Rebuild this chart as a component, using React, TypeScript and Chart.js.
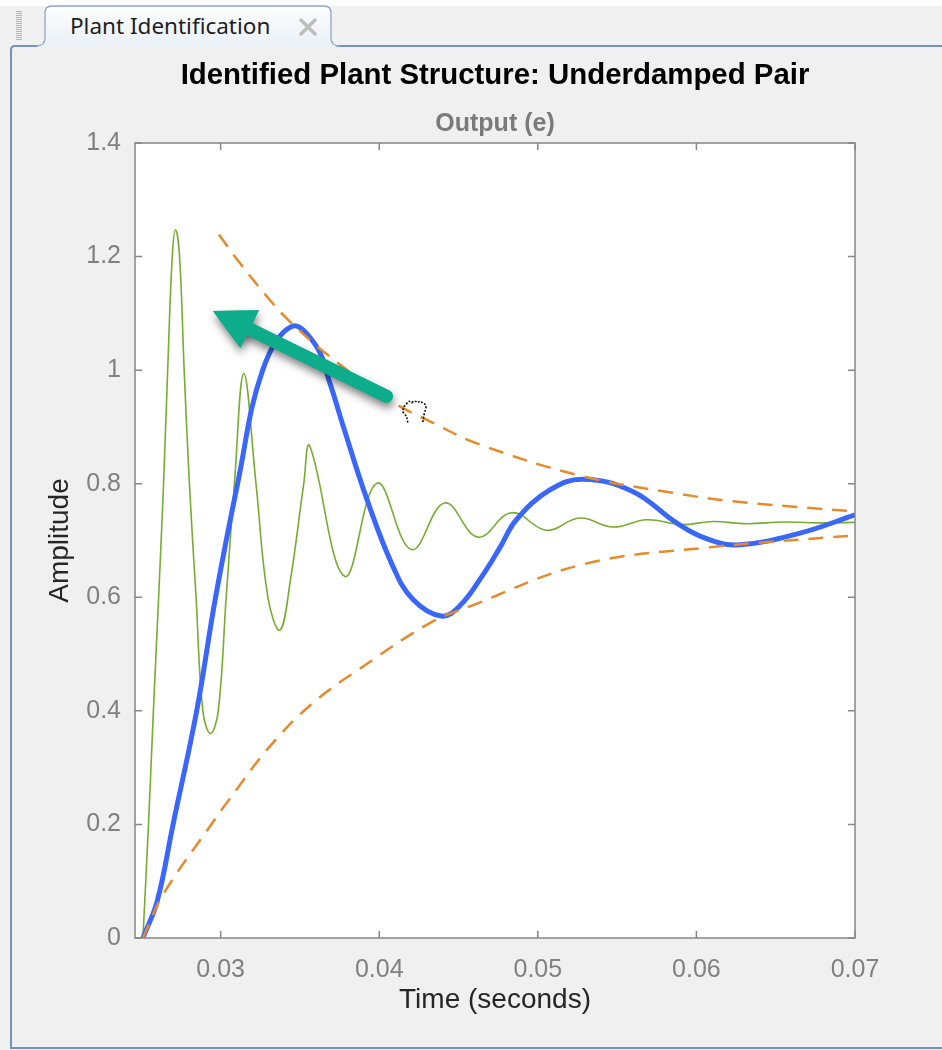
import React, { useEffect, useRef } from 'react';
import { Chart, registerables } from 'chart.js';

Chart.register(...registerables);

// ---------- text ----------
const TAB_LABEL = 'Plant Identification';
const TITLE = 'Identified Plant Structure: Underdamped Pair';
const SUBTITLE = 'Output (e)';
const X_LABEL = 'Time (seconds)';
const Y_LABEL = 'Amplitude';

// ---------- axes ----------
const X_MIN = 0.0246;
const X_MAX = 0.07;
const Y_MIN = 0;
const Y_MAX = 1.4;
const X_TICKS = [0.03, 0.04, 0.05, 0.06, 0.07];
const X_TICK_LABELS = ['0.03', '0.04', '0.05', '0.06', '0.07'];
const Y_TICKS = [0, 0.2, 0.4, 0.6, 0.8, 1.0, 1.2, 1.4];
const Y_TICK_LABELS = ['0', '0.2', '0.4', '0.6', '0.8', '1', '1.2', '1.4'];

// ---------- green response (fast oscillation) ----------
const MEASURED_T = [
  0.0251, 0.02545, 0.02576, 0.02609, 0.0264, 0.02666, 0.02695, 0.02716, 0.02741, 0.0277,
  0.02803, 0.02845, 0.02888, 0.02936, 0.02985, 0.03035, 0.03087, 0.03146, 0.03223, 0.03298,
  0.03374, 0.0344, 0.03524, 0.03562, 0.03782, 0.03986, 0.04203, 0.04413, 0.04623, 0.04834,
  0.05055, 0.05265, 0.05475, 0.05686, 0.05905, 0.06106, 0.06317, 0.0655, 0.068, 0.07,
];
const MEASURED_Y = [
  0, 0.2, 0.4, 0.6, 0.8, 1.0, 1.2, 1.247, 1.2, 1.0,
  0.8, 0.6, 0.4, 0.36, 0.4, 0.6, 0.8, 0.994, 0.8, 0.6,
  0.542, 0.63, 0.8, 0.866, 0.637, 0.801, 0.684, 0.766, 0.706, 0.749,
  0.718, 0.7395, 0.7237, 0.7366, 0.728, 0.7335, 0.7295, 0.7325, 0.731, 0.732,
];

// ---------- blue identified plant response ----------
const IDENTIFIED_T = [
  0.0251, 0.026, 0.027, 0.02849, 0.02968, 0.03107, 0.03265, 0.03448, 0.03604, 0.03688,
  0.0378, 0.03923, 0.04087, 0.04213, 0.0439, 0.04508, 0.04655, 0.0476, 0.04866, 0.05076,
  0.05286, 0.05601, 0.05875, 0.06085, 0.06275, 0.06653, 0.07,
];
const IDENTIFIED_Y = [
  0, 0.065, 0.2, 0.4, 0.6, 0.8, 1.0, 1.077, 1.042, 0.978,
  0.895, 0.772, 0.654, 0.596, 0.567, 0.585, 0.64, 0.687, 0.737, 0.789,
  0.808, 0.786, 0.731, 0.701, 0.6925, 0.713, 0.745,
];

// ---------- orange decay envelopes ----------
const UPPER_T = [0.02989, 0.0312, 0.03309, 0.03435, 0.03688, 0.04066, 0.0434, 0.04634, 0.05286, 0.05896, 0.06232, 0.07];
const UPPER_Y = [1.239, 1.189, 1.124, 1.086, 1.024, 0.947, 0.907, 0.869, 0.813, 0.782, 0.769, 0.751];
const LOWER_T = [0.0251, 0.02636, 0.02931, 0.03057, 0.03309, 0.03582, 0.03898, 0.04319, 0.04571, 0.05286, 0.06085, 0.07];
const LOWER_Y = [0, 0.076, 0.196, 0.245, 0.337, 0.414, 0.478, 0.5545, 0.584, 0.658, 0.688, 0.709];

// ---------- annotation (data units) ----------
const ARROW_FROM = [0.04045, 0.954];
const ARROW_TO = [0.02951, 1.104];
const CURSOR_AT = [0.04224, 0.9286];

// ---------- styles ----------
const FONT = "'Liberation Sans', Arial, Helvetica, sans-serif";
const GREEN = '#77AC30';
const BLUE = '#3A66FA';
const ORANGE = '#E68A2E';
const TEAL = '#0DAD8B';
const AXIS_GRAY = '#868686';
const TICK_GRAY = '#808080';
const CHROME_BLUE = '#7391bb';

const pts = (t: number[], y: number[]) => t.map((x, i) => ({ x, y: y[i] }));

const framePlugin = {
  id: 'matlabFrame',
  beforeDraw(chart: any) {
    const { ctx, chartArea: a } = chart;
    ctx.save();
    ctx.fillStyle = '#ffffff';
    ctx.fillRect(a.left, a.top, a.right - a.left, a.bottom - a.top);
    ctx.restore();
  },
  afterDatasetsDraw(chart: any) {
    const { ctx, chartArea: a, scales } = chart;
    const xs = scales.x;
    const ys = scales.y;

    // arrow annotation
    const x1 = xs.getPixelForValue(ARROW_FROM[0]);
    const y1 = ys.getPixelForValue(ARROW_FROM[1]);
    const x2 = xs.getPixelForValue(ARROW_TO[0]);
    const y2 = ys.getPixelForValue(ARROW_TO[1]);
    const ang = Math.atan2(y2 - y1, x2 - x1);
    const c = Math.cos(ang);
    const s = Math.sin(ang);
    const headLen = 41;
    const headHalf = 21;
    const bx = x2 - headLen * c;
    const by = y2 - headLen * s;
    const drawArrow = () => {
      ctx.beginPath();
      ctx.moveTo(x1, y1);
      ctx.lineTo(bx + 3 * c, by + 3 * s);
      ctx.stroke();
      ctx.beginPath();
      ctx.moveTo(x2, y2);
      ctx.lineTo(bx - headHalf * s, by + headHalf * c);
      ctx.lineTo(bx + headHalf * s, by - headHalf * c);
      ctx.closePath();
      ctx.fill();
    };
    ctx.save();
    ctx.strokeStyle = TEAL;
    ctx.fillStyle = TEAL;
    ctx.lineWidth = 13;
    ctx.lineCap = 'round';
    ctx.shadowColor = 'rgba(0,0,0,0.5)';
    ctx.shadowBlur = 9;
    ctx.shadowOffsetX = 1;
    ctx.shadowOffsetY = 5;
    drawArrow();
    ctx.shadowColor = 'rgba(0,0,0,0)';
    drawArrow();
    ctx.restore();

    // grab-hand cursor
    const cx = xs.getPixelForValue(CURSOR_AT[0]);
    const cy = ys.getPixelForValue(CURSOR_AT[1]);
    ctx.save();
    ctx.translate(cx, cy);
    ctx.strokeStyle = '#111';
    ctx.lineWidth = 1.6;
    ctx.setLineDash([2, 1.5]);
    ctx.beginPath();
    ctx.moveTo(-7, 12);
    ctx.lineTo(-8, 6);
    ctx.lineTo(-12, 1);
    ctx.lineTo(-11, -4);
    ctx.lineTo(-8, -7);
    ctx.quadraticCurveTo(-6, -11, -3, -8);
    ctx.quadraticCurveTo(0, -11, 3, -8);
    ctx.quadraticCurveTo(6, -11, 8, -7);
    ctx.quadraticCurveTo(12, -7, 11, -2);
    ctx.lineTo(9, 5);
    ctx.lineTo(8, 12);
    ctx.stroke();
    ctx.restore();

    // box and inward ticks
    ctx.save();
    ctx.strokeStyle = AXIS_GRAY;
    ctx.lineWidth = 1.5;
    ctx.strokeRect(a.left, a.top, a.right - a.left, a.bottom - a.top);
    ctx.beginPath();
    for (const v of X_TICKS) {
      const px = xs.getPixelForValue(v);
      ctx.moveTo(px, a.bottom);
      ctx.lineTo(px, a.bottom - 7);
      ctx.moveTo(px, a.top);
      ctx.lineTo(px, a.top + 7);
    }
    for (const v of Y_TICKS) {
      const py = ys.getPixelForValue(v);
      ctx.moveTo(a.left, py);
      ctx.lineTo(a.left + 7, py);
      ctx.moveTo(a.right, py);
      ctx.lineTo(a.right - 7, py);
    }
    ctx.stroke();
    ctx.restore();
  },
};

export default function App() {
  const ref = useRef<HTMLCanvasElement | null>(null);

  useEffect(() => {
    if (!ref.current) return;
    const chart = new Chart(ref.current, {
      type: 'line',
      data: {
        datasets: [
          {
            data: pts(UPPER_T, UPPER_Y),
            borderColor: ORANGE,
            borderWidth: 2.5,
            borderDash: [15, 10],
            pointRadius: 0,
            tension: 0.4,
            fill: false,
          },
          {
            data: pts(LOWER_T, LOWER_Y),
            borderColor: ORANGE,
            borderWidth: 2.5,
            borderDash: [15, 10],
            pointRadius: 0,
            tension: 0.4,
            fill: false,
          },
          {
            data: pts(IDENTIFIED_T, IDENTIFIED_Y),
            borderColor: BLUE,
            borderWidth: 5,
            pointRadius: 0,
            tension: 0.4,
            fill: false,
          },
          {
            data: pts(MEASURED_T, MEASURED_Y),
            borderColor: GREEN,
            borderWidth: 1.6,
            pointRadius: 0,
            tension: 0.4,
            fill: false,
          },
        ],
      },
      options: {
        responsive: false,
        animation: false,
        events: [],
        layout: { padding: { left: 0, right: 87, top: 0, bottom: 0 } },
        plugins: {
          legend: { display: false },
          tooltip: { enabled: false },
          title: {
            display: true,
            text: TITLE,
            fullSize: false,
            color: '#000000',
            font: { family: FONT, size: 29.4, weight: 'bold', lineHeight: 1.2 },
            padding: { top: 58.36, bottom: 0 },
          },
          subtitle: {
            display: true,
            text: SUBTITLE,
            fullSize: false,
            color: '#7a7a7a',
            font: { family: FONT, size: 25, weight: 'bold', lineHeight: 1.2 },
            padding: { top: 15.36, bottom: 4 },
          },
        },
        scales: {
          x: {
            type: 'linear',
            min: X_MIN,
            max: X_MAX,
            grid: { display: false, drawTicks: false },
            border: { display: false },
            afterBuildTicks: (scale: any) => {
              scale.ticks = X_TICKS.map((value) => ({ value }));
            },
            afterFit: (scale: any) => {
              scale.height = 112;
            },
            ticks: {
              autoSkip: false,
              maxRotation: 0,
              padding: 17,
              color: TICK_GRAY,
              font: { family: FONT, size: 25, lineHeight: 1.2 },
              callback: (_v: any, i: number) => X_TICK_LABELS[i],
            },
            title: {
              display: true,
              text: X_LABEL,
              color: '#262626',
              font: { family: FONT, size: 28, lineHeight: 1.2 },
              padding: { top: 0, bottom: 33.2 },
            },
          },
          y: {
            type: 'linear',
            min: Y_MIN,
            max: Y_MAX,
            grid: { display: false, drawTicks: false },
            border: { display: false },
            afterBuildTicks: (scale: any) => {
              scale.ticks = Y_TICKS.map((value) => ({ value }));
            },
            afterFit: (scale: any) => {
              scale.width = 135;
            },
            ticks: {
              autoSkip: false,
              padding: 14,
              color: TICK_GRAY,
              font: { family: FONT, size: 25, lineHeight: 1.2 },
              callback: (_v: any, i: number) => Y_TICK_LABELS[i],
            },
            title: {
              display: true,
              text: Y_LABEL,
              color: '#262626',
              font: { family: FONT, size: 28, lineHeight: 1.2 },
              padding: { top: 43.2, bottom: 0 },
            },
          },
        },
      },
      plugins: [framePlugin],
    } as any);
    return () => chart.destroy();
  }, []);

  const gripLines = [];
  for (let y = 11; y <= 39; y += 2) {
    gripLines.push(<line key={y} x1={16} y1={y + 0.5} x2={22} y2={y + 0.5} stroke="#b4b4b4" strokeWidth={1} />);
  }

  return (
    <div
      style={{
        position: 'absolute',
        left: 0,
        top: 0,
        width: 942,
        height: 1050,
        background: '#f0f0f0',
        overflow: 'hidden',
      }}
    >
      <svg width={942} height={1050} style={{ position: 'absolute', left: 0, top: 0 }}>
        <defs>
          <linearGradient id="tabFill" x1="0" y1="0" x2="0" y2="1">
            <stop offset="0" stopColor="#fdfeff" />
            <stop offset="1" stopColor="#e9f0f7" />
          </linearGradient>
        </defs>
        <rect x={0} y={0} width={942} height={6} fill="#ffffff" />
        {gripLines}
        <path d="M 11 1048 L 11 50 Q 11 46 15 46 L 38 46" stroke={CHROME_BLUE} strokeWidth={2} fill="none" />
        <path d="M 336 46 L 942 46" stroke={CHROME_BLUE} strokeWidth={2} fill="none" />
        <path d="M 10 1048 L 942 1048" stroke={CHROME_BLUE} strokeWidth={2} fill="none" />
        <path
          d="M 36 47 Q 45 47 45 38 L 45 13 Q 45 6 52 6 L 324 6 Q 331 6 331 13 L 331 38 Q 331 47 340 47 Z"
          fill="url(#tabFill)"
          stroke="none"
        />
        <path
          d="M 36 46 Q 45 46 45 38 L 45 13 Q 45 6 52 6 L 324 6 Q 331 6 331 13 L 331 38 Q 331 46 340 46"
          fill="none"
          stroke="#8ea7c7"
          strokeWidth={1.3}
        />
        <text
          x={70}
          y={34}
          fontFamily="'Noto Sans', 'DejaVu Sans', sans-serif"
          fontSize={22.5}
          fill="#1e1e1e"
        >
          {TAB_LABEL}
        </text>
        <path d="M 301 20 L 315 34 M 315 20 L 301 34" stroke="#bdbdbd" strokeWidth={3.5} strokeLinecap="round" />
      </svg>
      <canvas
        ref={ref}
        width={942}
        height={1050}
        style={{ position: 'absolute', left: 0, top: 0, width: 942, height: 1050 }}
      />
    </div>
  );
}
